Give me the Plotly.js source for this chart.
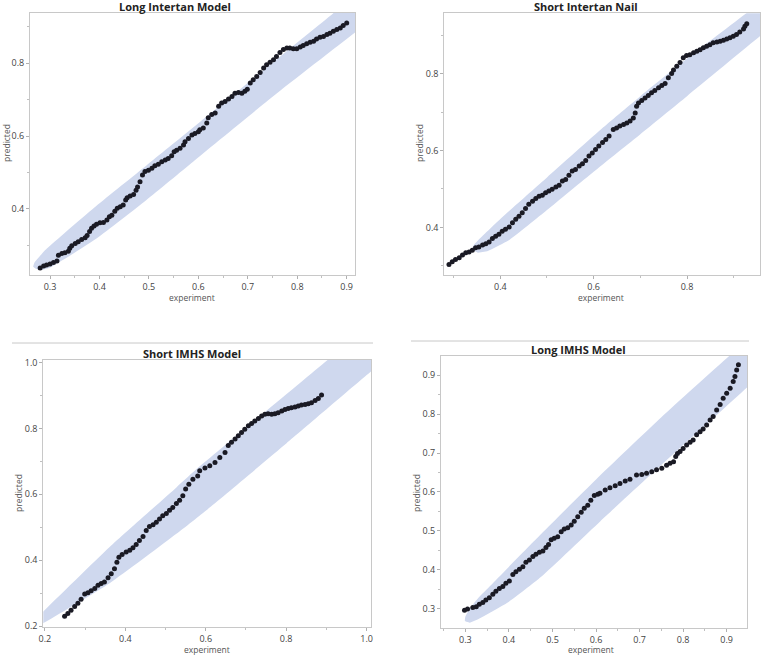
<!DOCTYPE html>
<html>
<head>
<meta charset="utf-8">
<script src="https://cdn.plot.ly/plotly-3.0.1.min.js"></script>
<style>html,body{margin:0;padding:0;background:#fff;}#chart{width:763px;height:656px;}</style>
</head>
<body>
<div id="chart"></div>
<script>
// ---------- Panel titles ----------
const panelTitles = ["Long Intertan Model", "Short Intertan Nail", "Short IMHS Model", "Long IMHS Model"];
const xTitle = "experiment";
const yTitle = "predicted";

// ---------- Long Intertan Model ----------
const li_x = [0.280,0.287,0.293,0.300,0.307,0.314,0.317,0.324,0.330,0.337,0.340,0.344,0.351,0.357,0.364,0.371,0.375,0.380,0.384,0.389,0.394,0.401,0.408,0.415,0.420,0.425,0.431,0.436,0.442,0.448,0.453,0.456,0.462,0.469,0.474,0.477,0.482,0.487,0.492,0.499,0.506,0.512,0.519,0.526,0.533,0.539,0.546,0.551,0.556,0.563,0.570,0.573,0.580,0.587,0.593,0.600,0.603,0.610,0.617,0.620,0.627,0.634,0.641,0.647,0.654,0.661,0.668,0.674,0.681,0.688,0.694,0.699,0.705,0.711,0.718,0.725,0.732,0.738,0.745,0.752,0.758,0.765,0.772,0.779,0.785,0.792,0.799,0.806,0.812,0.819,0.826,0.833,0.839,0.846,0.853,0.860,0.866,0.873,0.880,0.887,0.893,0.900];
const li_y = [0.237,0.242,0.245,0.248,0.252,0.256,0.272,0.277,0.279,0.283,0.291,0.298,0.304,0.309,0.315,0.320,0.326,0.337,0.346,0.352,0.357,0.361,0.362,0.369,0.378,0.382,0.393,0.401,0.405,0.410,0.424,0.430,0.435,0.439,0.451,0.460,0.474,0.493,0.502,0.506,0.511,0.518,0.522,0.529,0.534,0.538,0.546,0.557,0.561,0.566,0.575,0.584,0.593,0.603,0.607,0.612,0.617,0.622,0.636,0.650,0.659,0.663,0.682,0.691,0.695,0.702,0.709,0.718,0.720,0.718,0.723,0.729,0.746,0.755,0.764,0.775,0.787,0.796,0.803,0.810,0.819,0.830,0.838,0.842,0.842,0.840,0.840,0.845,0.849,0.854,0.858,0.861,0.867,0.872,0.874,0.879,0.883,0.888,0.893,0.897,0.904,0.911];
const li_bandUpX = [0.272,0.266,0.268,0.276,0.288,0.300,0.394,0.495,0.590,0.873,0.960];
const li_bandUpY = [0.234,0.240,0.250,0.264,0.283,0.298,0.408,0.519,0.624,0.938,1.034];
const li_bandLoX = [0.960,0.920,0.752,0.590,0.495,0.394,0.300,0.285];
const li_bandLoY = [0.930,0.888,0.710,0.530,0.424,0.318,0.238,0.232];

// ---------- Short Intertan Nail ----------
const si_x = [0.290,0.297,0.304,0.312,0.319,0.326,0.333,0.340,0.347,0.354,0.362,0.369,0.376,0.383,0.390,0.397,0.404,0.411,0.419,0.426,0.433,0.440,0.447,0.454,0.461,0.469,0.476,0.483,0.490,0.497,0.504,0.511,0.519,0.526,0.533,0.540,0.547,0.554,0.561,0.569,0.576,0.583,0.590,0.597,0.604,0.611,0.619,0.626,0.633,0.642,0.649,0.656,0.664,0.671,0.678,0.685,0.689,0.692,0.696,0.703,0.710,0.717,0.724,0.731,0.739,0.746,0.753,0.760,0.767,0.771,0.778,0.785,0.792,0.799,0.806,0.814,0.821,0.828,0.835,0.842,0.849,0.856,0.864,0.871,0.878,0.885,0.892,0.899,0.906,0.913,0.921,0.924,0.928];
const si_y = [0.303,0.310,0.316,0.321,0.328,0.334,0.336,0.340,0.347,0.349,0.354,0.357,0.362,0.371,0.377,0.382,0.390,0.395,0.401,0.412,0.421,0.429,0.438,0.449,0.460,0.468,0.475,0.481,0.484,0.490,0.495,0.499,0.505,0.510,0.521,0.525,0.536,0.547,0.551,0.560,0.566,0.574,0.586,0.594,0.603,0.612,0.621,0.629,0.638,0.655,0.659,0.664,0.668,0.672,0.677,0.685,0.698,0.716,0.724,0.731,0.737,0.744,0.751,0.757,0.764,0.770,0.775,0.790,0.801,0.810,0.820,0.830,0.842,0.848,0.850,0.855,0.859,0.863,0.868,0.872,0.876,0.881,0.883,0.885,0.888,0.891,0.894,0.898,0.903,0.909,0.917,0.924,0.931];
const si_bandUpX = [0.352,0.340,0.342,0.352,0.400,0.500,0.620,0.700,0.800,0.928,1.000];
const si_bandUpY = [0.334,0.342,0.352,0.366,0.422,0.530,0.660,0.742,0.840,0.959,1.026];
const si_bandLoX = [1.000,0.961,0.800,0.700,0.600,0.500,0.420,0.372];
const si_bandLoY = [0.942,0.903,0.742,0.643,0.545,0.445,0.368,0.338];

// ---------- Short IMHS Model ----------
const sm_x = [0.249,0.257,0.265,0.274,0.282,0.290,0.299,0.307,0.315,0.324,0.332,0.340,0.348,0.357,0.365,0.373,0.379,0.384,0.392,0.402,0.411,0.419,0.427,0.435,0.444,0.452,0.460,0.469,0.477,0.485,0.493,0.502,0.510,0.518,0.527,0.535,0.543,0.550,0.558,0.568,0.580,0.585,0.598,0.610,0.623,0.635,0.648,0.656,0.664,0.673,0.681,0.689,0.697,0.706,0.714,0.722,0.731,0.739,0.747,0.755,0.764,0.772,0.780,0.789,0.797,0.805,0.813,0.822,0.830,0.838,0.847,0.855,0.863,0.872,0.880,0.888];
const sm_y = [0.230,0.238,0.248,0.259,0.269,0.281,0.297,0.301,0.307,0.314,0.324,0.329,0.334,0.347,0.359,0.374,0.394,0.409,0.417,0.425,0.430,0.438,0.448,0.460,0.472,0.490,0.502,0.508,0.515,0.525,0.535,0.542,0.552,0.560,0.572,0.582,0.596,0.616,0.631,0.646,0.656,0.672,0.680,0.687,0.697,0.712,0.727,0.748,0.758,0.768,0.778,0.788,0.798,0.808,0.815,0.823,0.830,0.838,0.843,0.845,0.843,0.845,0.848,0.853,0.858,0.861,0.863,0.865,0.868,0.871,0.873,0.875,0.878,0.885,0.891,0.902];
const sm_bandUpX = [0.150,0.195,0.361,0.527,0.585,0.909,1.050];
const sm_bandUpY = [0.190,0.243,0.440,0.621,0.685,1.014,1.160];
const sm_bandLoX = [1.050,1.013,0.801,0.605,0.527,0.361,0.195,0.150];
const sm_bandLoY = [1.010,0.975,0.755,0.555,0.480,0.330,0.208,0.180];

// ---------- Long IMHS Model ----------
const lm_x = [0.298,0.305,0.317,0.325,0.332,0.340,0.347,0.355,0.363,0.370,0.378,0.386,0.393,0.401,0.409,0.416,0.424,0.432,0.439,0.447,0.455,0.462,0.470,0.478,0.485,0.491,0.497,0.504,0.512,0.520,0.527,0.535,0.543,0.550,0.558,0.566,0.573,0.581,0.588,0.596,0.604,0.609,0.621,0.632,0.644,0.655,0.667,0.678,0.693,0.705,0.716,0.728,0.739,0.751,0.762,0.770,0.778,0.783,0.787,0.793,0.800,0.808,0.816,0.823,0.831,0.839,0.846,0.854,0.862,0.869,0.877,0.885,0.892,0.900,0.908,0.915,0.919,0.923,0.927];
const lm_y = [0.296,0.299,0.303,0.305,0.311,0.316,0.322,0.328,0.337,0.345,0.352,0.357,0.365,0.371,0.388,0.395,0.401,0.408,0.419,0.425,0.434,0.440,0.445,0.448,0.457,0.465,0.477,0.481,0.485,0.498,0.505,0.508,0.515,0.525,0.536,0.548,0.558,0.566,0.579,0.591,0.594,0.597,0.605,0.611,0.616,0.622,0.628,0.633,0.644,0.645,0.648,0.652,0.657,0.661,0.669,0.674,0.678,0.691,0.699,0.704,0.712,0.721,0.728,0.734,0.747,0.755,0.762,0.772,0.785,0.794,0.811,0.825,0.841,0.854,0.867,0.884,0.897,0.914,0.927];
const lm_bandUpX = [0.310,0.299,0.300,0.310,0.330,0.359,0.474,0.600,0.750,0.908,0.970];
const lm_bandUpY = [0.264,0.268,0.280,0.300,0.328,0.361,0.492,0.632,0.792,0.952,1.012];
const lm_bandLoX = [0.970,0.949,0.780,0.610,0.474,0.400,0.328];
const lm_bandLoY = [0.895,0.871,0.700,0.525,0.382,0.318,0.272];

// ---------- Axis settings ----------
const xRanges = [[0.2595,0.9168],[0.28,0.957],[0.196,1.011],[0.244,0.9467]];
const yRanges = [[0.2175,0.9385],[0.275,0.958],[0.198,1.008],[0.251,0.9497]];
const xDticks = [0.1,0.2,0.2,0.1];
const yDticks = [0.2,0.2,0.2,0.1];

const panels = [
  {x: li_x, y: li_y, ux: li_bandUpX, uy: li_bandUpY, lx: li_bandLoX, ly: li_bandLoY},
  {x: si_x, y: si_y, ux: si_bandUpX, uy: si_bandUpY, lx: si_bandLoX, ly: si_bandLoY},
  {x: sm_x, y: sm_y, ux: sm_bandUpX, uy: sm_bandUpY, lx: sm_bandLoX, ly: sm_bandLoY},
  {x: lm_x, y: lm_y, ux: lm_bandUpX, uy: lm_bandUpY, lx: lm_bandLoX, ly: lm_bandLoY}
];

// pixel frames [left, right, top, bottom]
const W = 763, H = 656;
const frames = [[30,355,13,275],[444.3,760.3,13.3,275.3],[43.3,371,360,626.7],[441,747,356,627.7]];

const traces = [];
const layout = {
  width: W, height: H,
  margin: {l:0, r:0, t:0, b:0},
  paper_bgcolor: '#ffffff', plot_bgcolor: '#ffffff',
  showlegend: false,
  font: {family: 'Open Sans, Noto Sans, sans-serif', color: '#444444', size: 9},
  annotations: [], shapes: []
};

panels.forEach((p, i) => {
  const n = i + 1;
  const xa = n === 1 ? 'x' : 'x' + n;
  const ya = n === 1 ? 'y' : 'y' + n;
  traces.push({
    x: p.ux.concat(p.lx), y: p.uy.concat(p.ly),
    type: 'scatter', mode: 'lines', fill: 'toself',
    fillcolor: '#cfd8ee', line: {width: 0, shape: 'spline', smoothing: 0.5},
    hoverinfo: 'skip', xaxis: xa, yaxis: ya
  });
  traces.push({
    x: p.x, y: p.y, type: 'scatter', mode: 'markers',
    marker: {size: 5, color: '#1a1a24'},
    xaxis: xa, yaxis: ya
  });
  const f = frames[i];
  const axCommon = {
    showline: true, mirror: true, linecolor: '#c8c8c8', linewidth: 1,
    showgrid: false, zeroline: false, ticks: 'outside', ticklen: 3,
    tickcolor: '#b0b0b0', tickfont: {size: 9, color: '#444444'},
    tickformat: '.1f', fixedrange: true
  };
  layout['xaxis' + (n === 1 ? '' : n)] = Object.assign({}, axCommon, {
    domain: [f[0]/W, f[1]/W], range: xRanges[i], anchor: ya,
    dtick: xDticks[i], tick0: 0,
    minor: {ticks: 'outside', ticklen: 2, dtick: xDticks[i]/2, tickcolor: '#c0c0c0'}
  });
  layout['yaxis' + (n === 1 ? '' : n)] = Object.assign({}, axCommon, {
    domain: [1 - f[3]/H, 1 - f[2]/H], range: yRanges[i], anchor: xa,
    dtick: yDticks[i], tick0: 0,
    minor: {ticks: 'outside', ticklen: 2, dtick: yDticks[i]/2, tickcolor: '#c0c0c0'}
  });
});

// titles and axis labels (pixel positions)
const titlePos = [[175,7],[586,7],[192,353],[578,349]];
const xLabPos = [[192,297],[601,297],[207,649],[591,649]];
const yLabPos = [[6,143],[419,143],[19,493],[417,493]];
for (let i = 0; i < 4; i++) {
  layout.annotations.push({
    text: '<b>' + panelTitles[i] + '</b>', xref: 'paper', yref: 'paper',
    x: titlePos[i][0]/W, y: 1 - titlePos[i][1]/H, xanchor: 'center', yanchor: 'middle',
    showarrow: false, font: {size: 11, color: '#222222'}
  });
  layout.annotations.push({
    text: xTitle, xref: 'paper', yref: 'paper',
    x: xLabPos[i][0]/W, y: 1 - xLabPos[i][1]/H, xanchor: 'center', yanchor: 'middle',
    showarrow: false, font: {size: 8.5, color: '#555555'}
  });
  layout.annotations.push({
    text: yTitle, xref: 'paper', yref: 'paper', textangle: -90,
    x: yLabPos[i][0]/W, y: 1 - yLabPos[i][1]/H, xanchor: 'center', yanchor: 'middle',
    showarrow: false, font: {size: 8.5, color: '#555555'}
  });
}
// separator lines above bottom panels
layout.shapes.push({type:'line', xref:'paper', yref:'paper', x0:12/W, x1:373/W, y0:1-343/H, y1:1-343/H, line:{color:'#c8c8c8', width:1}});
layout.shapes.push({type:'line', xref:'paper', yref:'paper', x0:411/W, x1:749/W, y0:1-341/H, y1:1-341/H, line:{color:'#c8c8c8', width:1}});

Plotly.newPlot('chart', traces, layout, {displayModeBar: false, staticPlot: true});
</script>
</body>
</html>
